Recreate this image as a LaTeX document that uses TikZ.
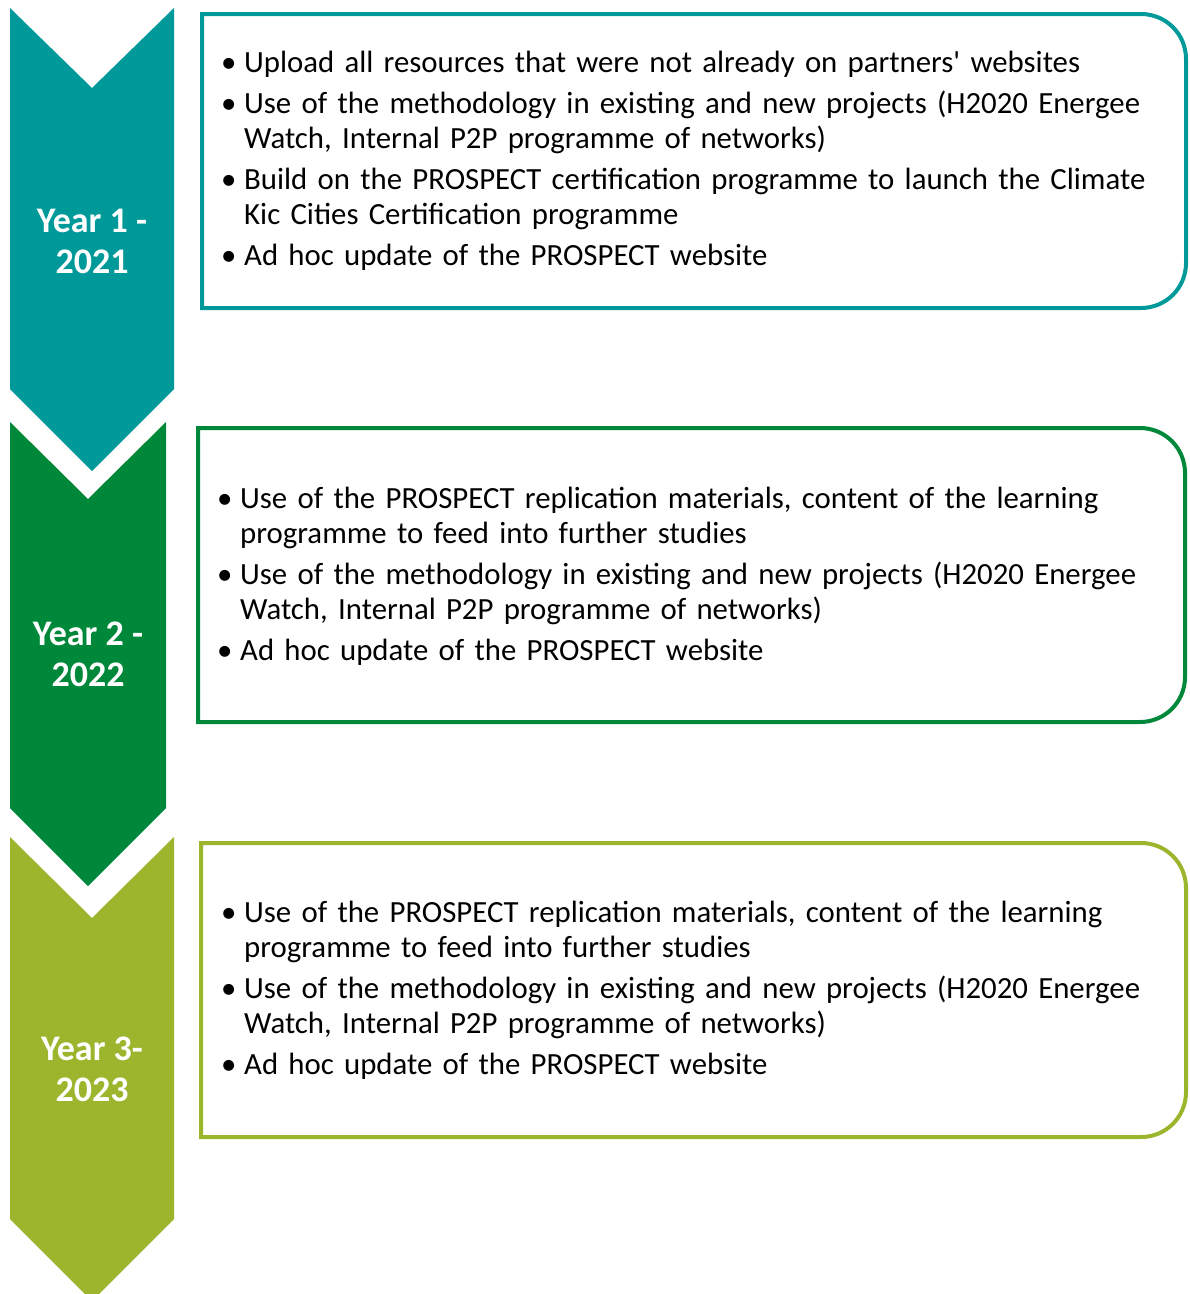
\documentclass[tikz,border=0pt]{standalone}
\usepackage{fontspec}
\setmainfont{Carlito}
\definecolor{tealA}{HTML}{009999}
\definecolor{greenB}{HTML}{00883A}
\definecolor{oliveC}{HTML}{9BB52D}
\newcommand{\bitem}[1]{\hangindent=23pt\hangafter=1\noindent\makebox[23pt][l]{\textbullet}#1\par}
\tikzset{
  chev/.style={draw=none},
  yearlbl/.style={text=white, font=\bfseries\fontsize{36}{41}\selectfont, align=center, inner sep=0pt},
  boxline/.style={line width=4pt},
  itemtext/.style={anchor=north west, inner sep=0pt, text width=960pt, align=left,
    font=\fontsize{30.8}{35}\selectfont\setlength{\parskip}{6pt}},
}
\begin{document}
\begin{tikzpicture}[x=1pt,y=-1pt]
\useasboundingbox (0,0) rectangle (1190,1294);
\clip (0,0) rectangle (1190,1294);
% chevrons
\fill[tealA] (10,8) -- (92,88) -- (174,8) -- (174,389) -- (92,471) -- (10,389) -- cycle;
\fill[greenB] (10,422) -- (88,499) -- (166,422) -- (166,808) -- (88,886) -- (10,808) -- cycle;
\fill[oliveC] (10,837) -- (92,918) -- (174,837) -- (174,1219) -- (92,1301) -- (10,1219) -- cycle;
\node[yearlbl] (y1) at (92,241) {Year 1 -\\2021};
\node[yearlbl] (y2) at (88,654.5) {Year 2 -\\2022};
\node[yearlbl] (y3) at (92,1069.5) {Year 3-\\2023};
% boxes
\draw[boxline, tealA] (202,14) -- (1141,14) .. controls (1166,14) and (1186,34) .. (1186,59)
  -- (1186,263) .. controls (1186,288) and (1166,308) .. (1141,308) -- (202,308) -- cycle;
\draw[boxline, greenB] (198,428) -- (1140,428) .. controls (1165,428) and (1185,448) .. (1185,473)
  -- (1185,677) .. controls (1185,702) and (1165,722) .. (1140,722) -- (198,722) -- cycle;
\draw[boxline, oliveC] (201,843) -- (1141,843) .. controls (1166,843) and (1186,863) .. (1186,888)
  -- (1186,1092) .. controls (1186,1117) and (1166,1137) .. (1141,1137) -- (201,1137) -- cycle;
% texts
\node[itemtext] (t1) at (221,51) {%
\bitem{Upload all resources that were not already on partners\textquotesingle{} websites}
\bitem{Use of the methodology in existing and new projects (H2020 Energee\newline Watch, Internal P2P programme of networks)}
\bitem{Build on the PROSPECT certification programme to launch the Climate\newline Kic Cities Certification programme}
\bitem{Ad hoc update of the PROSPECT website}};
\node[itemtext] (t2) at (217,487) {%
\bitem{Use of the PROSPECT replication materials, content of the learning\newline programme to feed into further studies}
\bitem{Use of the methodology in existing and new projects (H2020 Energee\newline Watch, Internal P2P programme of networks)}
\bitem{Ad hoc update of the PROSPECT website}};
\node[itemtext] (t3) at (221,901) {%
\bitem{Use of the PROSPECT replication materials, content of the learning\newline programme to feed into further studies}
\bitem{Use of the methodology in existing and new projects (H2020 Energee\newline Watch, Internal P2P programme of networks)}
\bitem{Ad hoc update of the PROSPECT website}};
\end{tikzpicture}
\end{document}
